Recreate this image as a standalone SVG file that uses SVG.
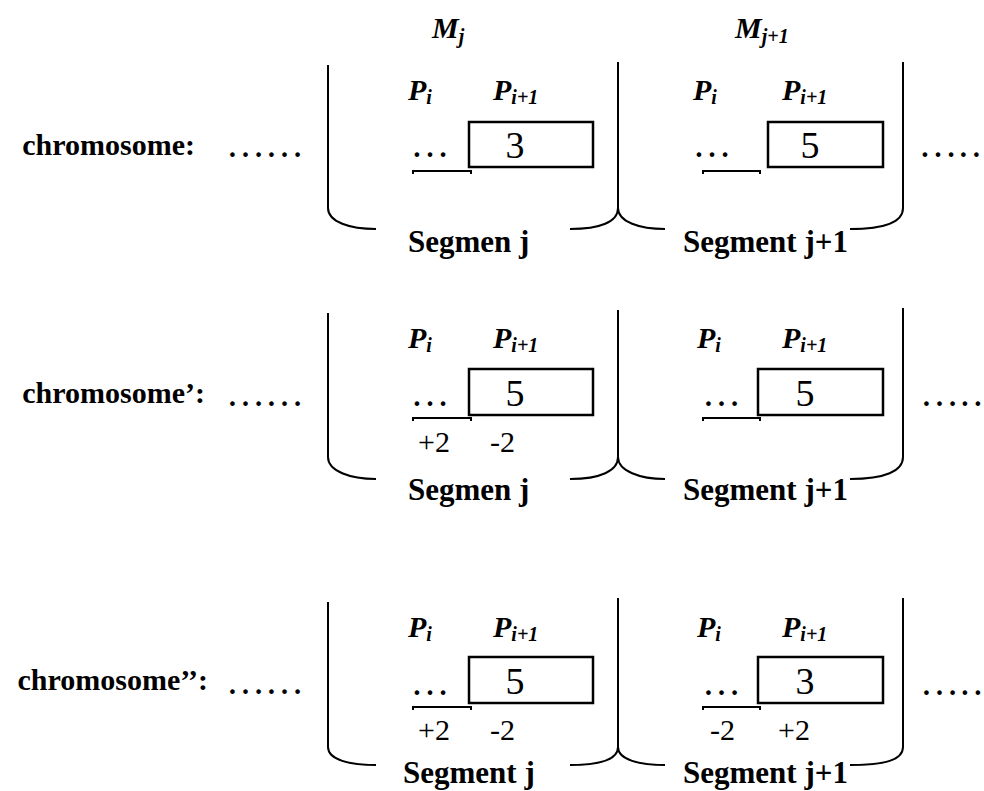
<svg xmlns="http://www.w3.org/2000/svg" width="984" height="791" viewBox="0 0 984 791">
<style>
.lbl{font-family:"Liberation Serif","Times New Roman",serif;font-weight:bold;font-size:30px;fill:#000}
.seg{font-family:"Liberation Serif","Times New Roman",serif;font-weight:bold;font-size:31px;fill:#000}
.p{font-family:"Liberation Serif","Times New Roman",serif;font-weight:bold;font-style:italic;font-size:30px;fill:#000}
.sub{font-size:20px}
.dots{font-family:"Liberation Serif","Times New Roman",serif;font-size:39px;fill:#000}
.dig{font-family:"Liberation Serif","Times New Roman",serif;font-size:38px;fill:#000;text-anchor:middle}
.num{font-family:"Liberation Serif","Times New Roman",serif;font-size:30px;fill:#000}
.brace{fill:none;stroke:#000;stroke-width:2}
.box{fill:none;stroke:#000;stroke-width:2.5}
.brk{fill:none;stroke:#000;stroke-width:2}
</style>
<g id="headers">
<text class="p" x="432" y="38">M<tspan class="sub" dy="5">j</tspan></text>
<text class="p" x="735" y="38">M<tspan class="sub" dy="5">j+1</tspan></text>
</g>
<g id="row1">
<text class="lbl" x="195" y="155" text-anchor="end">chromosome:</text>
<text class="dots" x="226" y="157">……</text>
<text class="dots" x="918.5" y="157">…<tspan dx="1">.</tspan><tspan dx="3.3">.</tspan></text>
<g id="row1-seg-j">
<text class="p" x="408" y="100">P<tspan class="sub" dy="4">i</tspan></text>
<text class="p" x="493" y="100">P<tspan class="sub" dy="4">i+1</tspan></text>
<text class="dots" x="410.5" y="157">…</text>
<path class="brk" d="M413,174 V171 H471 V174"/>
<rect class="box" x="469" y="122" width="124" height="45"/>
<text class="dig" x="515" y="158">3</text>
<text class="seg" x="408" y="252">Segmen j</text>
</g>
<g id="row1-seg-j1">
<text class="p" x="693" y="100">P<tspan class="sub" dy="4">i</tspan></text>
<text class="p" x="782" y="100">P<tspan class="sub" dy="4">i+1</tspan></text>
<text class="dots" x="692.5" y="157">…</text>
<path class="brk" d="M703,174 V171 H760 V174"/>
<rect class="box" x="768" y="122" width="115" height="45"/>
<text class="dig" x="810" y="158">5</text>
<text class="seg" x="683" y="252">Segment j+1</text>
</g>
</g>
<g id="row2">
<text class="lbl" x="205" y="403" text-anchor="end">chromosome’:</text>
<text class="dots" x="226" y="406">……</text>
<text class="dots" x="920" y="406">…<tspan dx="1">.</tspan><tspan dx="3.3">.</tspan></text>
<g id="row2-seg-j">
<text class="p" x="408" y="348">P<tspan class="sub" dy="4">i</tspan></text>
<text class="p" x="493" y="348">P<tspan class="sub" dy="4">i+1</tspan></text>
<text class="dots" x="410.5" y="406">…</text>
<path class="brk" d="M413,421 V418 H471 V421"/>
<rect class="box" x="469" y="369" width="124" height="46"/>
<text class="dig" x="515" y="406">5</text>
<text class="num" x="418" y="452">+2</text>
<text class="num" x="490" y="452">-2</text>
<text class="seg" x="408" y="500">Segmen j</text>
</g>
<g id="row2-seg-j1">
<text class="p" x="697" y="348">P<tspan class="sub" dy="4">i</tspan></text>
<text class="p" x="782" y="348">P<tspan class="sub" dy="4">i+1</tspan></text>
<text class="dots" x="702" y="406">…</text>
<path class="brk" d="M703,421 V418 H760 V421"/>
<rect class="box" x="758" y="369" width="125" height="46"/>
<text class="dig" x="805" y="406">5</text>
<text class="seg" x="683" y="500">Segment j+1</text>
</g>
</g>
<g id="row3">
<text class="lbl" x="208" y="690" text-anchor="end">chromosome’’:</text>
<text class="dots" x="226" y="694">……</text>
<text class="dots" x="920" y="695">…<tspan dx="1">.</tspan><tspan dx="3.3">.</tspan></text>
<g id="row3-seg-j">
<text class="p" x="408" y="637">P<tspan class="sub" dy="4">i</tspan></text>
<text class="p" x="493" y="637">P<tspan class="sub" dy="4">i+1</tspan></text>
<text class="dots" x="410.5" y="695">…</text>
<path class="brk" d="M413,710 V707 H471 V710"/>
<rect class="box" x="469" y="657" width="124" height="46"/>
<text class="dig" x="515" y="694">5</text>
<text class="num" x="418" y="740">+2</text>
<text class="num" x="490" y="740">-2</text>
<text class="seg" x="403" y="783">Segment j</text>
</g>
<g id="row3-seg-j1">
<text class="p" x="697" y="637">P<tspan class="sub" dy="4">i</tspan></text>
<text class="p" x="782" y="637">P<tspan class="sub" dy="4">i+1</tspan></text>
<text class="dots" x="702" y="695">…</text>
<path class="brk" d="M703,710 V707 H760 V710"/>
<rect class="box" x="758" y="657" width="125" height="46"/>
<text class="dig" x="805" y="694">3</text>
<text class="num" x="710" y="740">-2</text>
<text class="num" x="778" y="740">+2</text>
<text class="seg" x="683" y="783">Segment j+1</text>
</g>
</g>
<g id="connectors">
<path class="brace" d="M328,65 V208 C328,222 350,229 376,229"/>
<path class="brace" d="M570,229 C600,229 618,222 618,208 V62"/>
<path class="brace" d="M618,208 C618,222 640,229 665,229"/>
<path class="brace" d="M850,229 C885,229 903,222 903,208 V62"/>
<path class="brace" d="M328,313 V457 C328,471 350,479 376,479"/>
<path class="brace" d="M570,479 C600,479 618,471 618,457 V310"/>
<path class="brace" d="M618,457 C618,471 640,479 665,479"/>
<path class="brace" d="M850,479 C885,479 903,471 903,457 V308"/>
<path class="brace" d="M328,602 V747 C328,760 350,765 376,765"/>
<path class="brace" d="M570,765 C600,765 618,760 618,747 V598"/>
<path class="brace" d="M618,747 C618,760 640,765 665,765"/>
<path class="brace" d="M850,765 C885,765 903,760 903,747 V598"/>
</g>
</svg>
